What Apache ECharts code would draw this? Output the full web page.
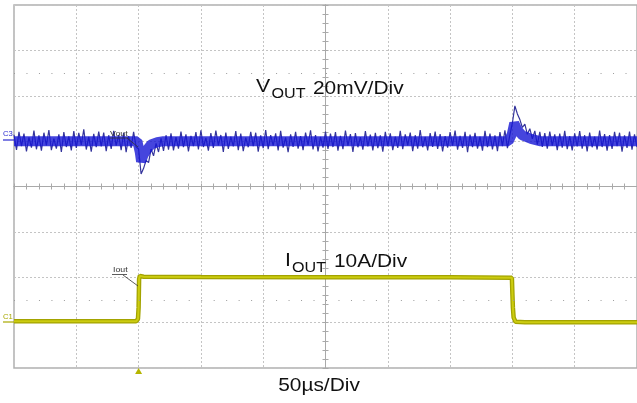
<!DOCTYPE html>
<html><head><meta charset="utf-8">
<script src="https://cdn.jsdelivr.net/npm/echarts@6/dist/echarts.min.js"></script>
<style>html,body{margin:0;padding:0;background:#fff}#c{width:637px;height:403px}</style>
</head><body><div id="c"></div>
<script>
// ---- time base (µs), 50 µs/div, 10 divisions ----
const timeMin = -250, timeMax = 250, timeDiv = 50;
const divMin = -4, divMax = 4;
const sampleStart = -250;   // µs, first VOUT sample
const sampleStep = 2;       // µs between VOUT samples
const triggerTime = -150;   // µs

// ---- VOUT (mV deviation, 20 mV/div) ----
const vScale = 20, vOffsetDiv = 1.0;
const voutSamples = [
 2.8,-3.9,4.1,-2.2,3.3,-4.5,1.7,-2.9,4.6,-3.6,
 2.5,-4.2,3.7,-1.9,4.9,-4.0,1.1,-3.3,3.0,-4.8,
 4.0,-2.6,2.1,-4.1,4.4,-3.0,3.6,-1.7,5.2,-3.7,
 1.9,-4.6,3.2,-2.7,4.2,-2.3,3.8,-4.4,2.6,-3.4,
 4.5,-2.0,2.7,-4.0,3.7,-4.9,2.2,-3.0,4.1,-2.5,
 -3.5,-14.5,-12.0,-8.5,-9.5,-3.5,-6.5,-1.0,-4.8,1.2,
 -4.3,2.6,-3.8,3.4,-4.1,1.8,-3.3,4.2,-2.7,3.0,
 -4.5,2.3,-2.2,4.0,-3.7,4.8,-2.6,1.4,-4.2,3.5,
 -3.0,4.6,-1.9,2.7,-4.8,3.8,-3.4,2.0,-2.3,4.4,
 -4.0,3.3,-4.4,1.5,-2.7,4.1,-2.2,3.7,-4.6,2.5,
 -3.1,4.9,-3.5,2.6,-2.0,3.4,-4.1,4.5,-2.9,1.6,
 -4.9,3.0,-2.5,4.1,-3.3,2.2,-4.0,3.8,-1.8,4.8,
 -3.7,2.7,-4.5,1.9,-2.9,4.2,-3.4,3.3,-2.6,4.0,
 -4.2,2.3,-3.5,4.6,-2.0,3.1,-4.8,3.5,-2.7,1.8,
 -3.8,4.4,-2.3,2.9,-4.1,3.7,-3.1,2.5,-4.6,4.1,
 -2.2,3.4,-4.0,2.0,-3.0,4.5,-3.5,3.0,-1.9,3.8,
 -4.4,2.6,-3.3,4.9,-2.7,1.9,-4.1,3.5,-2.5,4.2,
 -3.4,3.1,-4.5,2.2,-2.9,4.0,-2.0,4.6,-3.8,2.3,
 -3.0,4.1,-4.9,2.9,-2.6,3.7,-3.3,2.0,-4.2,4.5,
 -2.7,3.3,-3.7,2.5,-4.4,4.0,-2.2,4.8,-3.1,2.8,
 8.0,15.5,12.0,9.5,6.0,7.5,3.0,5.5,1.0,4.5,
 -1.6,4.1,-2.5,3.5,-3.3,4.2,-2.0,3.0,-4.0,3.3,
 -2.9,4.5,-3.5,2.2,-4.1,3.4,-2.3,4.4,-3.3,2.6,
 -4.5,3.8,-2.7,2.0,-3.7,4.6,-2.6,3.1,-4.2,2.7,
 -3.4,4.1,-2.2,3.7,-4.6,2.5,-3.0,4.2,-3.8,3.0,-2.6
];
// dense centre of the VOUT trace: [µs, mV]
const voutCore = [
 [-250,0],[-151,0],[-149,-5],[-148,-9],[-146,-6],[-143,-3.5],[-140,-1.5],[-135,-0.5],[-130,0],
 [147,0],[149.5,3],[151.5,8],[154,5],[158,2.5],[165,1],[172,0],[250,0]
];

// ---- IOUT (A, 10 A/div): [µs, A] ----
const iScale = 10, iOffsetDiv = -2.97;
const ioutTrace = [
 [-250,0],[-152,0],[-150.5,0.5],[-150,3],[-149.6,9.3],[-149,10.0],[-146,9.8],[-100,9.75],
 [0,9.7],[100,9.7],[149.6,9.6],[150,6],[150.4,3],[151,0.8],[152.5,-0.1],[160,-0.2],[250,-0.2]
];

const vToDiv = v => vOffsetDiv + v / vScale;
const iToDiv = a => iOffsetDiv + a / iScale;
const voutData = voutSamples.map((v, i) => [sampleStart + i * sampleStep, vToDiv(v)]);
const voutCoreData = voutCore.map(p => [p[0], vToDiv(p[1])]);
const ioutData = ioutTrace.map(p => [p[0], iToDiv(p[1])]);

const GRID = '#c4c4c4', AX = '#a9a9a9';
const FONT = '"Liberation Sans", Arial, sans-serif';

function xAx(k) {
  return {
    type: 'value', min: timeMin, max: timeMax, interval: timeDiv, position: 'bottom',
    axisLine: {show: true, onZero: true, onZeroAxisIndex: 0, lineStyle: {color: AX, width: 1}},
    axisTick: {show: true, inside: k === 0, length: 3, lineStyle: {color: AX}},
    minorTick: {show: true, splitNumber: 5, length: 3, lineStyle: {color: AX}},
    axisLabel: {show: false},
    splitLine: {show: k === 0, lineStyle: {color: GRID, type: [2, 2], width: 1}},
    minorSplitLine: {show: false}
  };
}
function yAx(k) {
  return {
    type: 'value', min: divMin, max: divMax, interval: 1, position: 'left',
    axisLine: {show: true, onZero: true, onZeroAxisIndex: 0, lineStyle: {color: AX, width: 1}},
    axisTick: {show: true, inside: k === 0, length: 3, lineStyle: {color: AX}},
    minorTick: {show: true, splitNumber: 5, length: 3, lineStyle: {color: AX}},
    axisLabel: {show: false},
    splitLine: {show: k === 0, lineStyle: {color: GRID, type: [2, 2], width: 1}},
    minorSplitLine: {show: false}
  };
}

function txt(x, y, s, size, sx, color, align) {
  return {type: 'text', x: x, y: y, scaleX: sx, silent: true, z: 100,
    style: {text: s, fontSize: size, fontFamily: FONT, fill: color, align: align || 'left', verticalAlign: 'middle'}};
}
function ln(x1, y1, x2, y2, color, w) {
  return {type: 'line', silent: true, z: 100, shape: {x1: x1, y1: y1, x2: x2, y2: y2},
    style: {stroke: color, lineWidth: w}};
}

const chart = echarts.init(document.getElementById('c'), null, {renderer: 'canvas'});
chart.setOption({
  animation: false,
  backgroundColor: '#ffffff',
  grid: {left: 14, right: -1, top: 5, bottom: 35, show: true, borderColor: '#b0b0b0', borderWidth: 1.5, backgroundColor: 'transparent'},
  xAxis: [xAx(0), xAx(1)],
  yAxis: [yAx(0), yAx(1)],
  series: [
    {type: 'line', name: 'half-div dots', data: [], silent: true,
     markLine: {silent: true, symbol: 'none', label: {show: false},
       lineStyle: {color: '#9c9c9c', type: [1, 11.48], width: 1},
       data: [{yAxis: 2.5}, {yAxis: -2.5}]}},
    {type: 'line', name: 'VOUT', data: voutData, symbol: 'none', z: 3,
     lineStyle: {color: '#34349c', width: 1.2}},
    {type: 'line', name: 'VOUT core', data: voutCoreData, symbol: 'none', z: 4,
     lineStyle: {color: '#1616d4', width: 10, opacity: 0.8}},
    {type: 'line', name: 'IOUT', data: ioutData, symbol: 'none', z: 3,
     lineStyle: {color: '#a3a300', width: 4.5},
     markPoint: {silent: true, label: {show: false},
       data: [{coord: [triggerTime, divMin], symbol: 'triangle', symbolSize: [7, 6], symbolOffset: [0, 3],
               itemStyle: {color: '#b5b500'}}]}},
    {type: 'line', name: 'IOUT hi', data: ioutData, symbol: 'none', z: 4,
     lineStyle: {color: '#cccc10', width: 2}}
  ],
  graphic: [
    txt(256, 87, 'V', 19, 1.12, '#111'),
    txt(271.5, 94, 'OUT', 14, 1.15, '#111'),
    txt(313, 88.5, '20mV/Div', 19, 1.1, '#111'),
    txt(285, 261, 'I', 19, 1.12, '#111'),
    txt(292, 268, 'OUT', 14, 1.15, '#111'),
    txt(334, 262, '10A/Div', 19, 1.1, '#111'),
    txt(319, 386, '50µs/Div', 19, 1.1, '#111', 'center'),
    txt(110, 134, 'Vout', 8, 1.1, '#333'),
    ln(110, 138, 128, 138, '#333', 0.8), ln(127, 138, 138, 147, '#333', 0.8),
    txt(113, 270, 'Iout', 8, 1.1, '#333'),
    ln(112, 274.5, 127, 274.5, '#333', 0.8), ln(123, 275, 138, 286, '#333', 0.8),
    txt(3, 134.5, 'C3', 7, 1.1, '#2b2bd0'),
    ln(3, 140, 14, 140, '#2b2bd0', 1.2),
    txt(3, 317.5, 'C1', 7, 1.1, '#a8a800'),
    ln(3, 322, 14, 322, '#a8a800', 1.2)
  ]
});
</script></body></html>
